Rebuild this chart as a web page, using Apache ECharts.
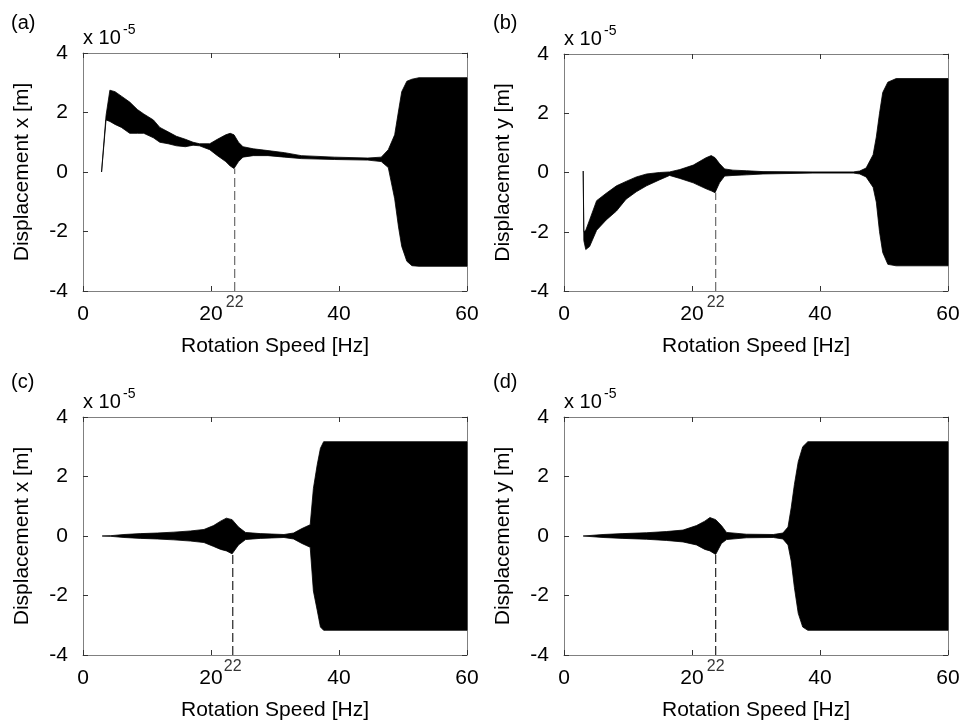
<!DOCTYPE html>
<html><head><meta charset="utf-8">
<script src="https://cdn.jsdelivr.net/npm/echarts@6/dist/echarts.min.js"></script>
<style>html,body{margin:0;padding:0;background:#fff}#c{width:963px;height:724px}</style>
</head><body><div id="c"></div>
<script>
// ---- axis / label data ----
const xMin = 0, xMax = 60, xInterval = 20;        // ticks 0,20,40,60
const yMin = -4, yMax = 4, yInterval = 2;         // ticks -4..4
const markTickLabel = '22';
const panelLabels = ['(a)', '(b)', '(c)', '(d)'];
const yNames = ['Displacement x [m]', 'Displacement y [m]', 'Displacement x [m]', 'Displacement y [m]'];
const xName = 'Rotation Speed [Hz]';
const scaleText = 'x 10';
const scaleExp = '-5';

// ---- panel (a): envelope of displacement x (x1e-5 m) ----
const freqA  = [2.9, 3.6, 4.2, 5.0, 6.0, 7.3, 8.5, 9.5, 11.0, 12.0, 13.3, 14.6, 16.0, 17.2, 18.2, 19.8, 21.0, 22.3, 23.0, 23.6, 24.3, 25.0, 26.6, 28.9, 31.5, 34.1, 39.3, 44.5, 46.6, 47.7, 48.7, 49.3, 49.8, 50.6, 51.4, 52.5, 60];
const upperA = [0, 1.9, 2.75, 2.7, 2.55, 2.35, 2.1, 1.95, 1.75, 1.5, 1.35, 1.2, 1.1, 1.0, 0.95, 0.95, 1.1, 1.25, 1.3, 1.25, 1.0, 0.85, 0.78, 0.72, 0.65, 0.55, 0.5, 0.47, 0.5, 0.75, 1.25, 2.05, 2.7, 3.05, 3.12, 3.17, 3.17];
const lowerA = [0, 1.75, 1.7, 1.6, 1.5, 1.3, 1.3, 1.3, 1.15, 1.0, 0.95, 0.88, 0.85, 0.9, 0.88, 0.75, 0.55, 0.35, 0.2, 0.12, 0.35, 0.5, 0.55, 0.55, 0.5, 0.45, 0.42, 0.4, 0.35, 0.15, -0.9, -1.85, -2.5, -3.0, -3.15, -3.17, -3.17];
const dashA = [23.7, 0.12];

// ---- panel (b): envelope of displacement y ----
const freqB  = [3.0, 3.1, 3.4, 4.0, 5.1, 6.6, 8.2, 9.7, 11.3, 12.9, 14.9, 16.5, 18.1, 20.2, 22.2, 23.0, 23.6, 24.3, 25.1, 26.4, 28.5, 31.1, 38.9, 45.2, 46.2, 47.2, 48.3, 48.8, 49.3, 49.8, 50.6, 51.9, 60];
const upperB = [0.05, -2.0, -1.95, -1.6, -0.95, -0.7, -0.45, -0.3, -0.15, -0.05, 0.0, 0.02, 0.1, 0.25, 0.5, 0.57, 0.5, 0.3, 0.12, 0.08, 0.06, 0.03, 0.02, 0.02, 0.05, 0.15, 0.6, 1.2, 2.0, 2.7, 3.05, 3.17, 3.17];
const lowerB = [0.05, -2.3, -2.6, -2.5, -1.95, -1.6, -1.3, -0.9, -0.65, -0.45, -0.25, -0.1, -0.2, -0.35, -0.55, -0.62, -0.68, -0.35, -0.12, -0.1, -0.08, -0.05, -0.02, -0.02, -0.05, -0.15, -0.5, -1.0, -2.0, -2.7, -3.1, -3.15, -3.15];
const dashB = [23.7, -0.68];

// ---- panel (c): envelope of displacement x ----
const freqC  = [3.0, 4.3, 6.4, 9.0, 11.6, 14.2, 16.8, 18.9, 20.4, 21.5, 22.4, 23.3, 24.3, 25.4, 27.7, 31.4, 32.9, 34.2, 35.5, 36.0, 36.6, 37.1, 37.6, 60];
const upperC = [0, 0.01, 0.05, 0.08, 0.1, 0.13, 0.17, 0.22, 0.35, 0.5, 0.6, 0.55, 0.3, 0.12, 0.08, 0.05, 0.1, 0.25, 0.38, 1.6, 2.4, 2.95, 3.17, 3.17];
const lowerC = [0, -0.01, -0.05, -0.08, -0.1, -0.13, -0.17, -0.22, -0.35, -0.45, -0.5, -0.6, -0.3, -0.12, -0.08, -0.05, -0.1, -0.25, -0.38, -1.85, -2.5, -3.06, -3.17, -3.17];
const dashC = [23.4, -0.6];

// ---- panel (d): envelope of displacement y ----
const freqD  = [3.0, 6.1, 9.2, 12.9, 16.0, 18.6, 20.7, 22.0, 22.8, 23.7, 24.6, 25.4, 28.5, 32.7, 34.2, 35.0, 35.5, 36.0, 36.6, 37.3, 38.1, 60];
const upperD = [0, 0.05, 0.08, 0.11, 0.15, 0.2, 0.35, 0.5, 0.62, 0.55, 0.35, 0.12, 0.06, 0.05, 0.1, 0.3, 0.95, 1.73, 2.5, 3.0, 3.17, 3.17];
const lowerD = [0, -0.05, -0.08, -0.11, -0.15, -0.2, -0.3, -0.45, -0.5, -0.62, -0.25, -0.12, -0.06, -0.05, -0.1, -0.3, -0.84, -1.73, -2.6, -3.06, -3.17, -3.17];
const dashD = [23.7, -0.62];

// ---- build ----
const FONT = "'Liberation Sans', Arial, Helvetica, sans-serif";
const AXIS_COLOR = '#808080';
const grids = [
  {left: 83, top: 53, width: 384, height: 238},
  {left: 564, top: 54, width: 384, height: 237},
  {left: 83, top: 417, width: 384, height: 238},
  {left: 564, top: 417, width: 384, height: 238}
];
const panels = [
  {f: freqA, u: upperA, l: lowerA, dash: dashA, dashColor: '#6a6a6a'},
  {f: freqB, u: upperB, l: lowerB, dash: dashB, dashColor: '#6a6a6a'},
  {f: freqC, u: upperC, l: lowerC, dash: dashC, dashColor: '#222'},
  {f: freqD, u: upperD, l: lowerD, dash: dashD, dashColor: '#222'}
];

const xAxes = [], yAxes = [], series = [], graphics = [];
grids.forEach((g, i) => {
  const base = {
    gridIndex: i, type: 'value',
    axisLine: {show: true, onZero: false, lineStyle: {color: AXIS_COLOR, width: 1}},
    axisTick: {show: true, inside: true, length: 5, lineStyle: {color: '#333'}},
    splitLine: {show: false}
  };
  xAxes.push(Object.assign({}, base, {
    min: xMin, max: xMax, interval: xInterval, position: 'bottom',
    axisLabel: {color: '#000', fontSize: 21, fontFamily: FONT, margin: 13},
    name: xName, nameLocation: 'middle', nameGap: 45,
    nameTextStyle: {color: '#000', fontSize: 21, fontFamily: FONT}
  }));
  xAxes.push(Object.assign({}, base, {
    min: xMin, max: xMax, interval: xInterval, position: 'top', axisLabel: {show: false}
  }));
  yAxes.push(Object.assign({}, base, {
    min: yMin, max: yMax, interval: yInterval, position: 'left',
    axisLabel: {color: '#000', fontSize: 21, fontFamily: FONT, margin: 15},
    name: yNames[i], nameLocation: 'middle', nameGap: 50,
    nameTextStyle: {color: '#000', fontSize: 21, fontFamily: FONT}
  }));
  yAxes.push(Object.assign({}, base, {
    min: yMin, max: yMax, interval: yInterval, position: 'right', axisLabel: {show: false}
  }));

  const p = panels[i];
  const n = p.f.length;
  series.push({
    type: 'custom', xAxisIndex: 2 * i, yAxisIndex: 2 * i, silent: true,
    encode: {x: 0, y: [1, 2]},
    data: p.f.map((f, j) => [f, p.u[j], p.l[j]]),
    renderItem: function (params, api) {
      if (params.dataIndexInside !== 0) return null;
      const top = [], bot = [];
      for (let j = 0; j < n; j++) {
        top.push(api.coord([api.value(0, j), api.value(1, j)]));
        bot.push(api.coord([api.value(0, j), api.value(2, j)]));
      }
      return {
        type: 'polygon',
        shape: {points: top.concat(bot.reverse())},
        style: {fill: '#000', stroke: '#000', lineWidth: 0.8}
      };
    }
  });
  series.push({
    type: 'line', xAxisIndex: 2 * i, yAxisIndex: 2 * i, silent: true,
    data: [[p.dash[0], yMin], [p.dash[0], p.dash[1]]],
    symbol: 'none', z: 1,
    lineStyle: {color: p.dashColor, width: 1.2, type: [9, 4]}
  });
  series.push({
    type: 'scatter', xAxisIndex: 2 * i, yAxisIndex: 2 * i, silent: true,
    data: [[p.dash[0], yMin]], symbolSize: 1,
    itemStyle: {color: 'rgba(0,0,0,0)'},
    label: {show: true, position: 'bottom', distance: 3, formatter: markTickLabel,
            color: '#000', fontSize: 16, fontFamily: FONT}
  });

  const lx = i % 2 === 0 ? 11 : 493;
  const ly = i < 2 ? 13 : 372;
  graphics.push({type: 'text', x: lx, y: ly, silent: true,
    style: {text: panelLabels[i], font: '20px ' + FONT, fill: '#000', verticalAlign: 'top'}});
  graphics.push({type: 'text', x: g.left, y: g.top - 15, silent: true,
    style: {text: scaleText, font: '20px ' + FONT, fill: '#000', verticalAlign: 'middle'}});
  graphics.push({type: 'text', x: g.left + 40, y: g.top - 23, silent: true,
    style: {text: scaleExp, font: '14px ' + FONT, fill: '#000', verticalAlign: 'middle'}});
});

const chart = echarts.init(document.getElementById('c'), null, {renderer: 'canvas'});
chart.setOption({
  animation: false,
  backgroundColor: '#fff',
  grid: grids,
  xAxis: xAxes,
  yAxis: yAxes,
  series: series,
  graphic: graphics
});
</script></body></html>
